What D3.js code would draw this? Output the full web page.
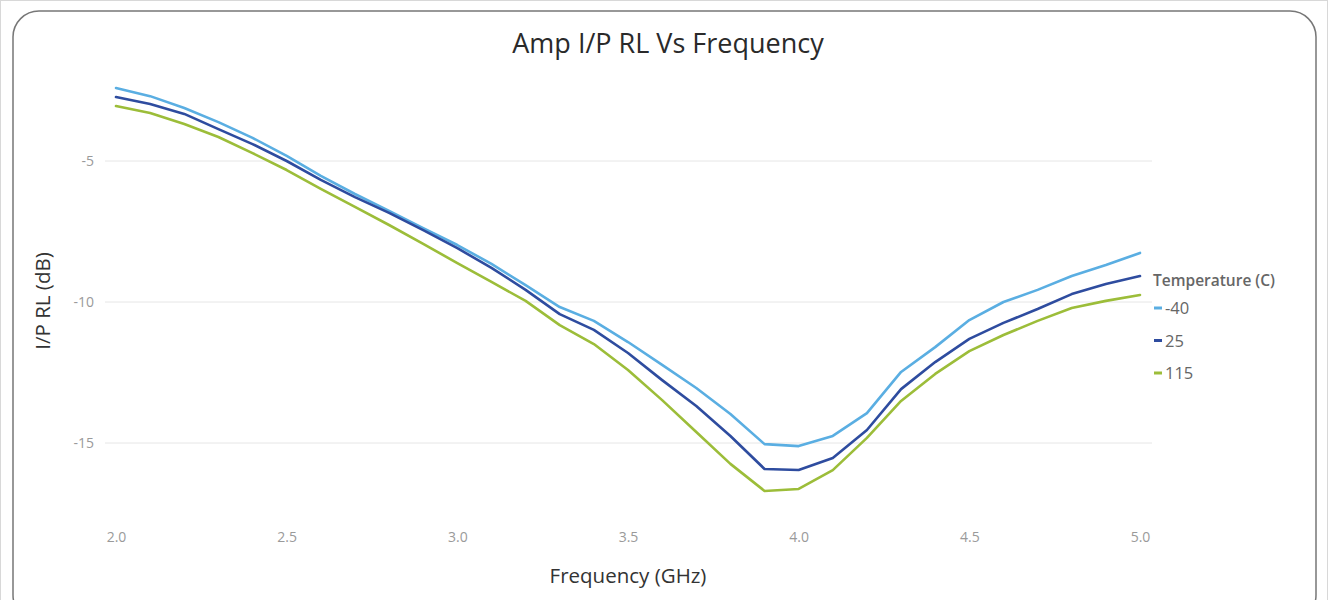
<!DOCTYPE html>
<html><head><meta charset="utf-8">
<script src="https://cdn.jsdelivr.net/npm/d3@7"></script>
<style>body{margin:0;background:#fff;}svg{display:block;font-family:"Open Sans","Noto Sans",sans-serif;}</style>
</head><body>
<svg id="chart" width="1328" height="600"></svg>
<script>
const freqs = [2.0,2.1,2.2,2.3,2.4,2.5,2.6,2.7,2.8,2.9,3.0,3.1,3.2,3.3,3.4,3.5,3.6,3.7,3.8,3.9,4.0,4.1,4.2,4.3,4.4,4.5,4.6,4.7,4.8,4.9,5.0];
const seriesNames = ["-40","25","115"];
const rlMinus40 = [-2.41,-2.70,-3.12,-3.62,-4.18,-4.82,-5.53,-6.17,-6.77,-7.38,-7.98,-8.65,-9.40,-10.18,-10.67,-11.42,-12.23,-13.05,-13.97,-15.04,-15.11,-14.75,-13.94,-12.48,-11.60,-10.64,-10.00,-9.57,-9.08,-8.69,-8.26];
const rl25 = [-2.73,-2.98,-3.33,-3.87,-4.40,-5.00,-5.67,-6.28,-6.84,-7.45,-8.09,-8.79,-9.57,-10.43,-10.99,-11.81,-12.77,-13.69,-14.75,-15.92,-15.96,-15.53,-14.54,-13.09,-12.13,-11.31,-10.74,-10.25,-9.72,-9.36,-9.08];
const rl115 = [-3.05,-3.30,-3.69,-4.15,-4.72,-5.32,-5.99,-6.63,-7.27,-7.94,-8.62,-9.29,-9.96,-10.82,-11.49,-12.41,-13.48,-14.61,-15.74,-16.70,-16.63,-15.96,-14.82,-13.51,-12.55,-11.74,-11.17,-10.67,-10.21,-9.96,-9.75];
const colors = ["#5aaee2","#2e4c9f","#9cbd39"];
const xTicks = [2.0,2.5,3.0,3.5,4.0,4.5,5.0];
const yTicks = [-5,-10,-15];

const svg = d3.select("#chart");
// outer frame
svg.append("rect").attr("x",0.5).attr("y",0.5).attr("width",1327).attr("height",620)
  .attr("fill","none").attr("stroke","#d8d8d8");
svg.append("rect").attr("x",13).attr("y",11).attr("width",1303).attr("height",610)
  .attr("rx",26).attr("ry",26).attr("fill","#fff").attr("stroke","#777").attr("stroke-width",1.5);

const x = d3.scaleLinear().domain([2.0,5.0]).range([116,1140]);
const y = d3.scaleLinear().domain([-5,-15]).range([161,443]);
const gridX0 = 105, gridX1 = 1152;

// gridlines
svg.append("g").selectAll("line").data(yTicks).join("line")
  .attr("x1",gridX0).attr("x2",gridX1)
  .attr("y1",d=>y(d)).attr("y2",d=>y(d))
  .attr("stroke","#e6e6e6").attr("stroke-width",1);

// y axis labels
const yAxis = d3.axisLeft(y).tickValues(yTicks).tickSize(0).tickPadding(0).tickFormat(d=>String(d));
const gy = svg.append("g").attr("transform",`translate(94,0)`).call(yAxis);
gy.select(".domain").remove();
gy.selectAll("text").attr("fill","#9a9a9a").attr("font-size",14).attr("font-family","'Open Sans','Noto Sans',sans-serif");

// x axis labels
const xAxis = d3.axisBottom(x).tickValues(xTicks).tickSize(0).tickPadding(0).tickFormat(d3.format(".1f"));
const gx = svg.append("g").attr("transform",`translate(0,532)`).call(xAxis);
gx.select(".domain").remove();
gx.selectAll("text").attr("fill","#9a9a9a").attr("font-size",14).attr("font-family","'Open Sans','Noto Sans',sans-serif");

// lines
const allSeries = [rlMinus40, rl25, rl115];
const line = d3.line().x((d,i)=>x(freqs[i])).y(d=>y(d));
svg.append("g").selectAll("path").data(allSeries).join("path")
  .attr("d",d=>line(d)).attr("fill","none")
  .attr("stroke",(d,i)=>colors[i]).attr("stroke-width",2.6)
  .attr("stroke-linejoin","round").attr("stroke-linecap","round");

// title
svg.append("text").attr("x",668).attr("y",53).attr("text-anchor","middle")
  .attr("font-size",27).attr("fill","#2a2a2a").text("Amp I/P RL Vs Frequency");
// axis titles
svg.append("text").attr("x",628).attr("y",583).attr("text-anchor","middle")
  .attr("font-size",20.5).attr("fill","#333").text("Frequency (GHz)");
svg.append("text").attr("transform","translate(50,301) rotate(-90)").attr("text-anchor","middle")
  .attr("font-size",20.5).attr("fill","#333").text("I/P RL (dB)");

// legend
const lg = svg.append("g").attr("transform","translate(1153,0)");
lg.append("text").attr("x",0).attr("y",286).attr("font-size",15.5).attr("font-weight",600)
  .attr("fill","#666").text("Temperature (C)");
const items = lg.selectAll("g.item").data(seriesNames).join("g").attr("class","item")
  .attr("transform",(d,i)=>`translate(0,${308+i*32.5})`);
items.append("line").attr("x1",1).attr("x2",9).attr("y1",0).attr("y2",0)
  .attr("stroke",(d,i)=>colors[i]).attr("stroke-width",3);
items.append("text").attr("x",12).attr("y",6).attr("font-size",16.5).attr("fill","#666").text(d=>d);
</script>
</body></html>
